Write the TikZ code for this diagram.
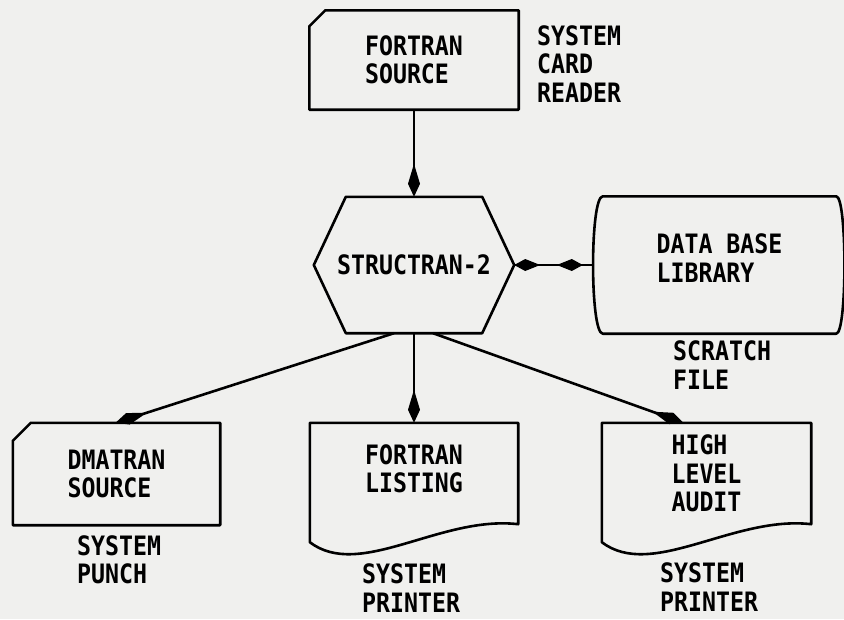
\documentclass[tikz,border=0pt]{standalone}
\usepackage{fontspec}
\newfontfamily\plotfont[FakeStretch=0.87]{DejaVu Sans Mono}
\usetikzlibrary{arrows.meta}
\definecolor{paper}{RGB}{240,240,238}
\tikzset{
    box/.style = {
        inner sep = 0pt,
        align = left,
    },
    outline/.style = {
        draw = black,
        line width = 2.6pt,
        line join = round,
    },
    flow/.style = {
        draw = black,
        line width = 2.6pt,
        -{Kite[length=33pt,width=12pt,inset=20pt]},
    },
    both/.style = {
        draw = black,
        line width = 2.6pt,
        {Kite[length=26pt,width=12pt,inset=15pt]}-{Kite[length=26pt,width=12pt,inset=15pt]},
    },
    note/.style = {
        inner sep = 0pt,
        align = left,
        anchor = west,
    }
}

\begin{document}
\begin{tikzpicture}[x=1pt, y=-1pt, font=\plotfont\bfseries\fontsize{26.7}{28.5}\selectfont]
  \fill[paper] (0,0) rectangle (844,619);
  \useasboundingbox (0,0) rectangle (844,619);

  % Input card
  \node[box, minimum width=209pt, minimum height=99pt] (Source) at (414,60) {FORTRAN\\SOURCE};
  \draw[outline] ([yshift=-16pt]Source.north west) -- ([xshift=16pt]Source.north west) -- (Source.north east) -- (Source.south east) -- (Source.south west) -- cycle;
  \node[note] (CardReader) at (537,64) {SYSTEM\\CARD\\READER};

  % Processor
  \node[box, minimum width=200pt, minimum height=136pt] (Structran) at (414,265) {STRUCTRAN-2};
  \draw[outline] (Structran.west) -- ([xshift=32pt]Structran.north west) -- ([xshift=-32pt]Structran.north east) -- (Structran.east) -- ([xshift=-32pt]Structran.south east) -- ([xshift=32pt]Structran.south west) -- cycle;

  \draw[flow] (Source.south) -- (Structran.north);

  % Scratch file
  \node[box, minimum width=233pt, minimum height=137pt, text depth=14pt] (DataBase) at (719.5,265) {DATA BASE\\LIBRARY};
  \draw[outline] (DataBase.north west) -- (DataBase.north east) .. controls ([xshift=11pt]DataBase.north east) and ([xshift=11pt]DataBase.south east) .. (DataBase.south east) -- (DataBase.south west) .. controls ([xshift=-13pt]DataBase.south west) and ([xshift=-13pt]DataBase.north west) .. (DataBase.north west) -- cycle;
  \node[note] (Scratch) at (673,365) {SCRATCH\\FILE};

  \draw[line width=2.6pt] (Structran.east) -- ([xshift=-10pt]DataBase.west);
  \draw[both, shorten >=10pt] (Structran.east) -- ([xshift=-10pt]DataBase.west);

  % Outputs
  \node[box, minimum width=207pt, minimum height=102pt] (Dmatran) at (116.5,474) {DMATRAN\\SOURCE};
  \draw[outline] ([yshift=-18pt]Dmatran.north west) -- ([xshift=18pt]Dmatran.north west) -- (Dmatran.north east) -- (Dmatran.south east) -- (Dmatran.south west) -- cycle;
  \node[note] (Punch) at (77,560) {SYSTEM\\PUNCH};

  \node[box, minimum width=208pt, minimum height=101pt, text depth=10pt] (Listing) at (414,473.5) {FORTRAN\\LISTING};
  \draw[outline] (Listing.south east) -- (Listing.north east) -- (Listing.north west) -- ([yshift=-18pt]Listing.south west) .. controls ([xshift=50pt,yshift=-56pt]Listing.south west) and ([xshift=-78pt,yshift=9pt]Listing.south east) .. (Listing.south east) -- cycle;
  \node[note] (PrinterA) at (362,588) {SYSTEM\\PRINTER};

  \node[box, minimum width=209pt, minimum height=101pt] (Audit) at (706.5,473.5) {HIGH\\LEVEL\\AUDIT};
  \draw[outline] (Audit.south east) -- (Audit.north east) -- (Audit.north west) -- ([yshift=-18pt]Audit.south west) .. controls ([xshift=50pt,yshift=-56pt]Audit.south west) and ([xshift=-78pt,yshift=9pt]Audit.south east) .. (Audit.south east) -- cycle;
  \node[note] (PrinterB) at (660,587) {SYSTEM\\PRINTER};

  \draw[flow] ([xshift=-20pt]Structran.south) -- ([xshift=-1pt]Dmatran.north);
  \draw[flow] (Structran.south) -- (Listing.north);
  \draw[flow] ([xshift=19pt]Structran.south) -- ([xshift=-23pt]Audit.north);
\end{tikzpicture}
\end{document}
